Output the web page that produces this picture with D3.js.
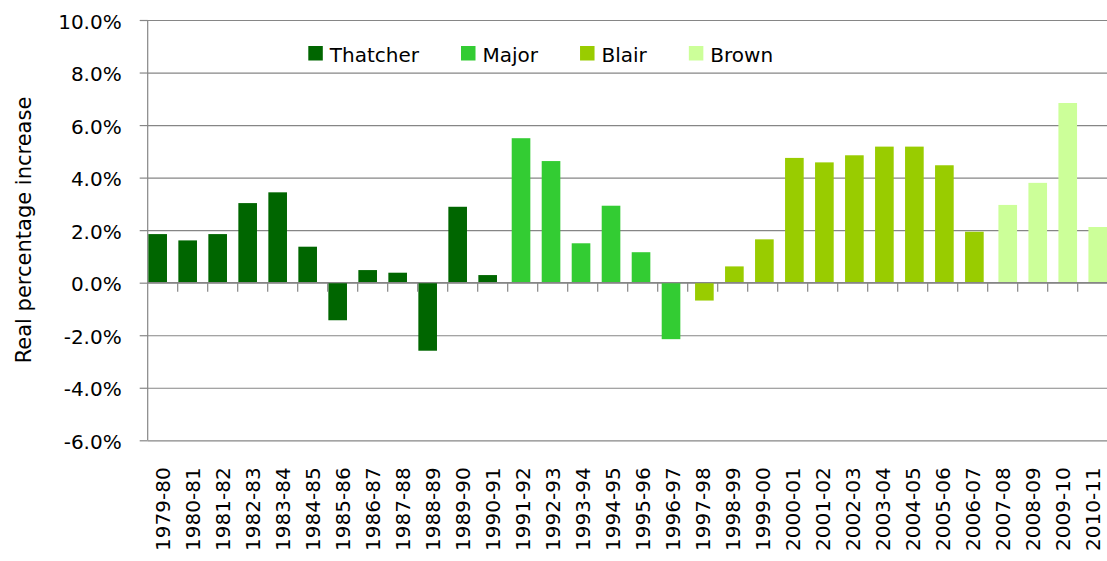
<!DOCTYPE html>
<html>
<head>
<meta charset="utf-8">
<script src="https://cdn.jsdelivr.net/npm/d3@7"></script>
<style>
  body { margin: 0; background: #fff; }
  text { font-family: "DejaVu Sans", sans-serif; fill: #000; }
</style>
</head>
<body>
<script>

// data
const years = ['1979-80', '1980-81', '1981-82', '1982-83', '1983-84', '1984-85', '1985-86', '1986-87',
    '1987-88', '1988-89', '1989-90', '1990-91', '1991-92', '1992-93', '1993-94', '1994-95',
    '1995-96', '1996-97', '1997-98', '1998-99', '1999-00', '2000-01', '2001-02', '2002-03',
    '2003-04', '2004-05', '2005-06', '2006-07', '2007-08', '2008-09', '2009-10', '2010-11']

const increase = [1.85, 1.61, 1.85, 3.03, 3.44, 1.37, -1.43, 0.48,
    0.38, -2.59, 2.89, 0.29, 5.50, 4.63, 1.50, 2.93,
    1.16, -2.15, -0.68, 0.62, 1.65, 4.75, 4.58, 4.85,
    5.18, 5.18, 4.47, 1.94, 2.96, 3.80, 6.84, 2.12]

const pm = ['Thatcher', 'Thatcher', 'Thatcher', 'Thatcher', 'Thatcher', 'Thatcher', 'Thatcher', 'Thatcher',
    'Thatcher', 'Thatcher', 'Thatcher', 'Thatcher', 'Major', 'Major', 'Major', 'Major',
    'Major', 'Major', 'Blair', 'Blair', 'Blair', 'Blair', 'Blair', 'Blair',
    'Blair', 'Blair', 'Blair', 'Blair', 'Brown', 'Brown', 'Brown', 'Brown']

const leaders = ['Thatcher', 'Major', 'Blair', 'Brown']
const leaderColors = ['#006600', '#33cc33', '#99cc00', '#ccff99']

const yTicks = [-6, -4, -2, 0, 2, 4, 6, 8, 10]

// measurements for the chart
const m = {
    width: 1107,
    height: 561,
    left: 147.7,
    right: 1107.7,
    top: 20,
    bottom: 440.3
}

const data = years.map((d, i) => ({ year: d, value: increase[i], pm: pm[i] }))

const svg = d3.select('body').append('svg')
    .attr('width', m.width)
    .attr('height', m.height)

// scales
const xScale = d3.scaleBand()
    .domain(years)
    .range([m.left, m.right])

const yScale = d3.scaleLinear()
    .domain([-6, 10])
    .range([m.bottom, m.top])

const color = d3.scaleOrdinal()
    .domain(leaders)
    .range(leaderColors)

// excel style clustered bars: each leader is its own series, overlapped
const gap = 0.07, overlap = 0.82
const barW = xScale.bandwidth() / (leaders.length - (leaders.length - 1) * overlap + gap)
const step = barW * (1 - overlap)
const start = (xScale.bandwidth() - barW - step * (leaders.length - 1)) / 2

// plain hyphen for negatives, like the original
const pct = d => d.toFixed(1) + '%'

// gridlines
svg.append('g')
    .attr('transform', `translate(${m.left},0)`)
    .call(d3.axisLeft(yScale).tickValues(yTicks).tickSize(-(m.width - m.left)).tickFormat(''))
    .call(g => g.select('.domain').remove())
    .call(g => g.selectAll('line').attr('stroke', '#868686').attr('stroke-width', 1.2))

// y axis with labels
svg.append('g')
    .attr('transform', `translate(${m.left},0)`)
    .call(d3.axisLeft(yScale).tickValues(yTicks).tickSize(8).tickPadding(18).tickFormat(pct))
    .call(g => g.select('.domain').attr('stroke', '#868686').attr('stroke-width', 1.2)
        .attr('d', `M0,${m.top}V${m.bottom}`))
    .call(g => g.selectAll('line').attr('stroke', '#868686').attr('stroke-width', 1.2))
    .call(g => g.selectAll('text').attr('font-size', 20).attr('font-family', '"DejaVu Sans", sans-serif')
        .attr('fill', '#000').attr('dy', '0.4em'))

// bars
svg.selectAll('rect.bar')
    .data(data)
    .join('rect')
    .attr('class', 'bar')
    .attr('x', d => xScale(d.year) + start + leaders.indexOf(d.pm) * step)
    .attr('y', d => yScale(Math.max(0, d.value)))
    .attr('width', barW)
    .attr('height', d => Math.abs(yScale(d.value) - yScale(0)))
    .attr('fill', d => color(d.pm))

// zero line with category boundary ticks
svg.append('line')
    .attr('x1', m.left)
    .attr('x2', m.width)
    .attr('y1', yScale(0))
    .attr('y2', yScale(0))
    .attr('stroke', '#868686')
    .attr('stroke-width', 1.2)

svg.selectAll('line.cat-tick')
    .data(years.slice(1))
    .join('line')
    .attr('class', 'cat-tick')
    .attr('x1', d => xScale(d))
    .attr('x2', d => xScale(d))
    .attr('y1', yScale(0))
    .attr('y2', yScale(0) + 9)
    .attr('stroke', '#868686')
    .attr('stroke-width', 1.2)

// category labels, below the plot area
svg.selectAll('text.cat')
    .data(years)
    .join('text')
    .attr('class', 'cat')
    .attr('transform', d => `translate(${xScale(d) + xScale.bandwidth() / 2}, ${m.bottom + 27})rotate(-90)`)
    .attr('text-anchor', 'end')
    .attr('dy', '0.36em')
    .attr('font-size', 20)
    .text(d => d)

// y axis title
svg.append('text')
    .attr('transform', `translate(${23}, ${230})rotate(-90)`)
    .attr('text-anchor', 'middle')
    .attr('dy', '0.36em')
    .attr('font-size', 21)
    .text('Real percentage increase')

// legend
const legend = svg.append('g')
let lx = 308.3
leaders.forEach(name => {
    const item = legend.append('g').attr('transform', `translate(${lx},46)`)
    item.append('rect')
        .attr('width', 14.5)
        .attr('height', 14.5)
        .attr('fill', color(name))
    const t = item.append('text')
        .attr('x', 21.5)
        .attr('y', 15.5)
        .attr('font-size', 20)
        .text(name)
    lx += 21.5 + t.node().getComputedTextLength() + 42
})

</script>
</body>
</html>
